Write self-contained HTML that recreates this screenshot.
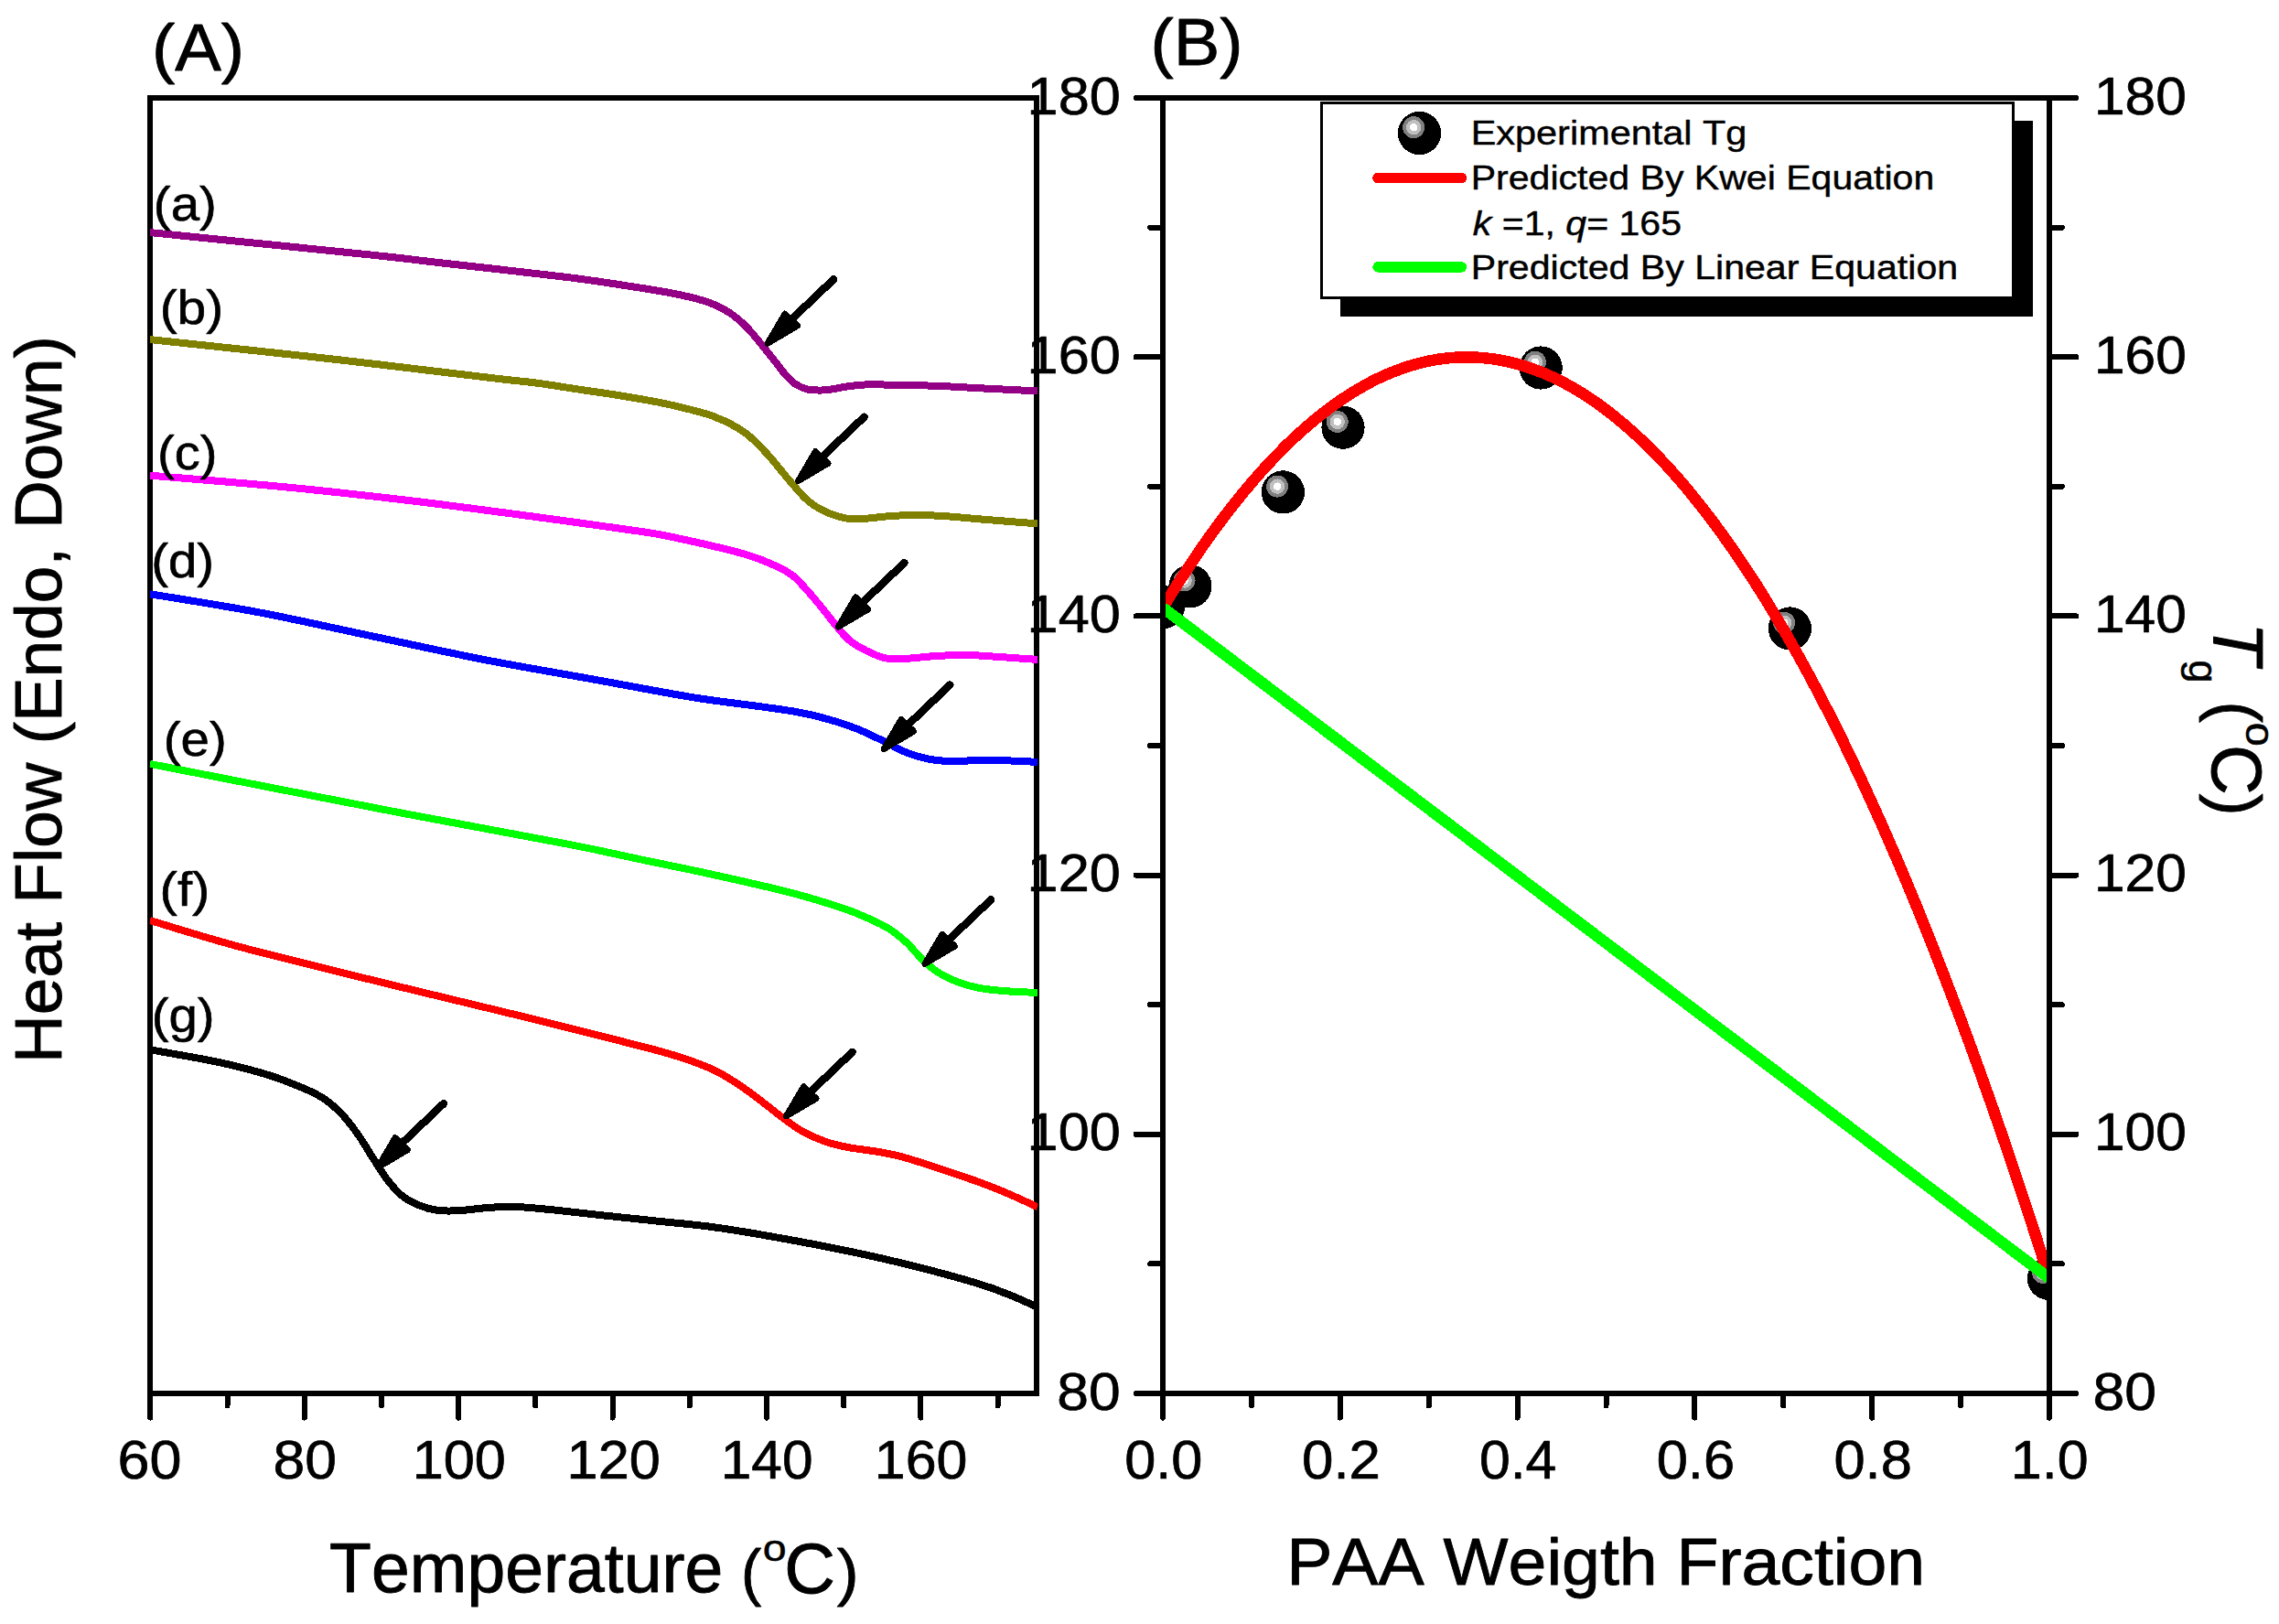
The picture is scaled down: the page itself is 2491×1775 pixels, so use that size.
<!DOCTYPE html>
<html><head><meta charset="utf-8"><title>DSC thermograms and Tg composition plot</title>
<style>html,body{margin:0;padding:0;background:#fff}svg{display:block}text{font-family:"Liberation Sans",sans-serif;fill:#000;stroke:#000;stroke-linejoin:round;font-kerning:none;font-variant-ligatures:none}</style>
</head><body>
<svg width="2491" height="1775" viewBox="0 0 2491 1775" shape-rendering="crispEdges">
<rect width="2491" height="1775" fill="#fff"/>
<defs>
<clipPath id="clipA"><rect x="163.8" y="107.0" width="970.4000000000001" height="1416.0"/></clipPath>
<clipPath id="clipB"><rect x="1271.0" y="107.0" width="968.9000000000001" height="1416.0"/></clipPath>
<g id="ball"><circle r="23.6" fill="#000"/><circle cx="-6.3" cy="-6.3" r="12" fill="#808080"/><circle cx="-6.3" cy="-6.3" r="8.2" fill="#c0c0c0"/><circle cx="-6.3" cy="-6.3" r="4.2" fill="#fff"/></g>
<g id="arrow"><line x1="74.6" y1="-72.3" x2="28" y2="-28" stroke="#000" stroke-width="8.5" stroke-linecap="round"/><polygon points="2.4,-2.3 21.4,-34.6 35,-21.5" fill="#000" stroke="#000" stroke-width="6.8" stroke-linejoin="round"/></g>
</defs>

<path d="M164.3,1543.0 V107.0 H1132.7 V1526.0 M1135.7,1523.0 H164.3" stroke="#000" stroke-width="6.0" fill="none"/>
<g clip-path="url(#clipA)" fill="none" stroke-width="8" stroke-linejoin="round">
<path d="M163.9,254.1 C203.2,258.1 347.3,272.5 400.0,278.0 C452.7,283.5 443.3,282.9 480.0,287.1 C516.7,291.3 583.3,298.4 620.0,303.0 C656.7,307.6 679.5,311.5 700.0,314.7 C720.5,317.9 730.5,319.5 743.1,322.2 C755.7,324.9 766.4,327.6 775.4,330.8 C784.4,334.0 790.5,337.5 797.0,341.6 C803.5,345.7 808.8,350.4 814.2,355.6 C819.6,360.8 823.9,366.3 829.3,372.8 C834.7,379.3 841.6,388.1 846.6,394.4 C851.6,400.7 855.5,406.3 859.5,410.6 C863.5,414.9 866.3,417.8 870.3,420.3 C874.2,422.8 877.8,424.6 883.2,425.6 C888.6,426.6 895.4,426.8 902.6,426.3 C909.8,425.8 918.8,423.4 926.3,422.4 C933.8,421.4 938.8,420.6 947.8,420.3 C956.8,420.1 967.6,420.6 980.2,420.9 C992.8,421.1 1007.1,421.2 1023.3,421.8 C1039.5,422.4 1058.8,423.7 1077.2,424.6 C1095.7,425.5 1124.5,426.9 1134.0,427.4" stroke="#940085"/>
<path d="M163.9,371.1 C196.6,374.6 297.4,385.1 360.1,392.1 C422.8,399.2 502.4,409.0 540.0,413.4 C577.6,417.8 570.4,416.5 585.6,418.5 C600.8,420.5 616.1,423.1 631.3,425.4 C646.5,427.7 661.7,429.7 676.9,432.2 C692.1,434.7 709.2,437.5 722.5,440.2 C735.8,442.9 747.3,445.7 756.8,448.2 C766.3,450.7 772.4,452.3 779.6,455.0 C786.8,457.7 793.5,460.6 800.0,464.2 C806.5,467.8 811.8,470.7 818.5,476.3 C825.2,481.9 832.9,489.9 840.1,497.8 C847.3,505.7 854.4,515.4 861.6,523.7 C868.8,532.0 876.0,541.3 883.2,547.4 C890.4,553.5 897.5,557.1 904.7,560.3 C911.9,563.5 920.2,565.6 926.3,566.8 C932.4,567.9 932.4,567.7 941.4,567.2 C950.4,566.7 966.6,564.2 980.2,563.6 C993.9,563.0 1007.1,562.9 1023.3,563.6 C1039.5,564.3 1058.8,566.4 1077.2,567.9 C1095.7,569.4 1124.5,571.6 1134.0,572.4" stroke="#808000"/>
<path d="M163.9,519.7 C187.8,521.7 261.4,527.5 307.4,531.9 C353.4,536.3 395.1,540.9 440.1,546.2 C485.2,551.5 534.4,558.1 577.7,563.9 C621.0,569.7 672.4,576.6 700.0,580.8 C727.6,584.9 728.7,585.8 743.1,588.8 C757.5,591.8 773.6,595.5 786.2,598.5 C798.8,601.5 808.4,603.9 818.5,607.1 C828.6,610.3 838.7,614.3 846.6,617.9 C854.5,621.5 860.2,624.4 865.9,628.7 C871.6,633.0 875.6,637.9 881.0,643.8 C886.4,649.7 892.5,657.2 898.3,664.2 C904.0,671.2 910.5,679.9 915.5,685.8 C920.5,691.7 923.4,695.7 928.4,699.8 C933.4,703.9 939.2,707.4 945.7,710.6 C952.2,713.8 959.7,717.7 967.2,719.2 C974.7,720.7 981.5,720.2 990.9,719.8 C1000.2,719.4 1012.5,717.6 1023.3,717.0 C1034.1,716.4 1044.8,715.8 1055.6,715.9 C1066.4,716.0 1074.8,716.9 1087.9,717.7 C1101.0,718.5 1126.3,720.4 1134.0,720.9" stroke="#FF00FF"/>
<path d="M163.9,649.2 C183.7,652.6 242.6,661.6 282.9,669.3 C323.2,676.9 364.8,686.5 405.7,695.1 C446.6,703.7 487.7,712.9 528.6,720.9 C569.6,728.9 622.8,737.8 651.4,743.0 C680.0,748.2 681.1,748.6 700.0,752.0 C718.9,755.4 743.2,760.1 764.7,763.4 C786.2,766.7 811.3,769.5 829.3,772.0 C847.2,774.5 859.8,776.1 872.4,778.4 C885.0,780.7 893.9,782.9 904.7,786.0 C915.5,789.1 927.0,792.8 937.1,796.8 C947.2,800.8 956.1,805.4 965.1,809.7 C974.1,814.0 983.0,819.4 990.9,822.6 C998.8,825.8 1005.3,827.6 1012.5,829.1 C1019.7,830.6 1025.1,831.5 1034.1,831.9 C1043.1,832.3 1055.6,831.4 1066.4,831.3 C1077.2,831.2 1087.4,831.0 1098.7,831.3 C1110.0,831.6 1128.1,832.6 1134.0,832.9" stroke="#0000FF"/>
<path d="M163.9,834.9 C209.8,843.9 363.4,874.1 439.4,888.7 C515.4,903.3 576.6,914.1 620.0,922.5 C663.4,930.9 672.8,933.6 700.0,939.3 C727.2,945.0 755.4,950.6 783.1,956.8 C810.8,962.9 843.2,970.2 866.3,976.2 C889.4,982.2 907.9,988.2 921.7,992.8 C935.6,997.4 941.1,1000.2 949.4,1003.9 C957.7,1007.6 964.6,1010.6 971.5,1015.0 C978.4,1019.4 984.9,1024.7 990.9,1030.2 C996.9,1035.7 1002.0,1042.9 1007.6,1048.2 C1013.2,1053.5 1017.7,1057.9 1024.2,1062.1 C1030.7,1066.3 1038.6,1070.2 1046.4,1073.2 C1054.2,1076.2 1062.1,1078.4 1071.3,1080.1 C1080.5,1081.8 1091.3,1082.6 1101.8,1083.4 C1112.2,1084.2 1128.6,1084.7 1134.0,1084.9" stroke="#00FF00"/>
<path d="M163.9,1006.0 C180.5,1010.9 221.0,1023.9 263.5,1035.3 C306.0,1046.6 367.0,1061.4 418.7,1074.1 C470.4,1086.8 527.0,1100.1 573.9,1111.6 C620.8,1123.1 672.0,1136.1 700.0,1143.3 C728.0,1150.5 728.7,1150.8 741.6,1154.9 C754.5,1159.1 767.0,1163.4 777.6,1168.2 C788.2,1173.0 796.5,1178.4 805.3,1184.0 C814.1,1189.6 821.9,1195.8 830.2,1202.0 C838.5,1208.2 847.4,1215.6 855.2,1221.4 C863.1,1227.2 869.4,1232.3 877.3,1236.7 C885.1,1241.1 894.0,1244.8 902.3,1247.7 C910.6,1250.6 917.1,1252.1 927.2,1254.1 C937.4,1256.0 952.6,1257.5 963.2,1259.4 C973.8,1261.4 979.4,1262.5 990.9,1265.8 C1002.4,1269.1 1018.6,1274.5 1032.5,1279.1 C1046.4,1283.7 1062.5,1289.2 1074.1,1293.5 C1085.6,1297.8 1091.8,1300.3 1101.8,1304.6 C1111.8,1308.9 1128.6,1316.8 1134.0,1319.2" stroke="#FF0000"/>
<path d="M163.9,1147.3 C176.2,1149.5 216.7,1156.3 237.6,1160.7 C258.5,1165.1 274.2,1169.2 289.3,1173.7 C304.4,1178.2 317.3,1183.4 328.1,1187.9 C338.9,1192.4 346.2,1195.6 354.0,1200.8 C361.8,1206.0 368.2,1212.0 374.7,1218.9 C381.2,1225.8 387.2,1234.2 392.8,1242.2 C398.4,1250.2 403.1,1258.8 408.3,1266.8 C413.5,1274.8 418.6,1283.3 423.8,1290.0 C429.0,1296.7 433.8,1302.4 439.4,1306.9 C445.0,1311.4 451.0,1314.5 457.5,1317.2 C464.0,1319.9 470.9,1321.9 478.2,1322.9 C485.5,1323.9 491.9,1323.7 501.4,1323.2 C510.9,1322.7 524.8,1320.5 535.1,1319.8 C545.5,1319.1 552.7,1318.7 563.5,1319.0 C574.3,1319.3 585.0,1320.5 599.7,1321.9 C614.4,1323.3 631.5,1325.4 651.5,1327.6 C671.5,1329.8 697.2,1332.3 720.0,1334.8 C742.8,1337.3 758.1,1337.9 788.1,1342.4 C818.1,1346.9 867.5,1355.7 900.2,1362.0 C932.9,1368.3 956.2,1373.4 984.2,1380.2 C1012.2,1387.0 1047.3,1396.4 1068.3,1402.7 C1089.3,1409.0 1099.3,1413.7 1110.3,1418.1 C1121.2,1422.5 1130.0,1427.2 1134.0,1429.0" stroke="#000000"/>
</g>
<use href="#arrow" x="836.6" y="377.6"/>
<use href="#arrow" x="870" y="528"/>
<use href="#arrow" x="913.8" y="687.5"/>
<use href="#arrow" x="963.7" y="820.9"/>
<use href="#arrow" x="1008.5" y="1055.7"/>
<use href="#arrow" x="857" y="1222.2"/>
<use href="#arrow" x="410.5" y="1278.3"/>
<g clip-path="url(#clipB)">
<use href="#ball" x="1271.3" y="663.6"/>
<use href="#ball" x="1300.9" y="640.8"/>
<use href="#ball" x="1402.4" y="537.9"/>
<use href="#ball" x="1468" y="467.2"/>
<use href="#ball" x="1684.2" y="402"/>
<use href="#ball" x="1956.4" y="687"/>
<use href="#ball" x="2239.4" y="1397.3"/>
<path d="M1271.0,664.2 L1280.7,648.4 L1290.4,633.2 L1300.1,618.4 L1309.8,604.0 L1319.4,590.1 L1329.1,576.7 L1338.8,563.8 L1348.5,551.3 L1358.2,539.3 L1367.9,527.7 L1377.6,516.6 L1387.3,506.0 L1397.0,495.9 L1406.6,486.2 L1416.3,476.9 L1426.0,468.2 L1435.7,459.9 L1445.4,452.1 L1455.1,444.7 L1464.8,437.8 L1474.5,431.4 L1484.2,425.5 L1493.8,420.0 L1503.5,414.9 L1513.2,410.4 L1522.9,406.3 L1532.6,402.7 L1542.3,399.5 L1552.0,396.8 L1561.7,394.6 L1571.4,392.8 L1581.0,391.5 L1590.7,390.7 L1600.4,390.3 L1610.1,390.4 L1619.8,391.0 L1629.5,392.0 L1639.2,393.5 L1648.9,395.5 L1658.6,397.9 L1668.2,400.8 L1677.9,404.2 L1687.6,408.0 L1697.3,412.3 L1707.0,417.1 L1716.7,422.3 L1726.4,428.0 L1736.1,434.2 L1745.8,440.8 L1755.5,447.9 L1765.1,455.5 L1774.8,463.5 L1784.5,472.0 L1794.2,480.9 L1803.9,490.4 L1813.6,500.3 L1823.3,510.6 L1833.0,521.4 L1842.7,532.7 L1852.3,544.5 L1862.0,556.7 L1871.7,569.4 L1881.4,582.6 L1891.1,596.2 L1900.8,610.3 L1910.5,624.8 L1920.2,639.8 L1929.9,655.3 L1939.5,671.3 L1949.2,687.7 L1958.9,704.6 L1968.6,721.9 L1978.3,739.7 L1988.0,758.0 L1997.7,776.8 L2007.4,796.0 L2017.1,815.7 L2026.7,835.8 L2036.4,856.4 L2046.1,877.5 L2055.8,899.0 L2065.5,921.1 L2075.2,943.5 L2084.9,966.5 L2094.6,989.9 L2104.3,1013.8 L2113.9,1038.1 L2123.6,1062.9 L2133.3,1088.2 L2143.0,1113.9 L2152.7,1140.1 L2162.4,1166.8 L2172.1,1194.0 L2181.8,1221.6 L2191.5,1249.6 L2201.1,1278.2 L2210.8,1307.2 L2220.5,1336.6 L2230.2,1366.6 L2239.9,1397.0" fill="none" stroke="#FF0000" stroke-width="12.5" stroke-linejoin="round"/>
<line x1="1271.0" y1="664.2" x2="2239.9" y2="1397.0" stroke="#00FF00" stroke-width="12.5"/>
</g>
<g stroke="#000" stroke-width="6.0" fill="none" stroke-linecap="round">
<line x1="164.3" y1="1523.0" x2="164.3" y2="1549.6"/>
<line x1="164.3" y1="1523.0" x2="164.3" y2="1549.6"/>
<line x1="248.5" y1="1523.0" x2="248.5" y2="1536.4"/>
<line x1="332.7" y1="1523.0" x2="332.7" y2="1549.6"/>
<line x1="416.9" y1="1523.0" x2="416.9" y2="1536.4"/>
<line x1="501.1" y1="1523.0" x2="501.1" y2="1549.6"/>
<line x1="585.3" y1="1523.0" x2="585.3" y2="1536.4"/>
<line x1="669.6" y1="1523.0" x2="669.6" y2="1549.6"/>
<line x1="753.8" y1="1523.0" x2="753.8" y2="1536.4"/>
<line x1="838.0" y1="1523.0" x2="838.0" y2="1549.6"/>
<line x1="922.2" y1="1523.0" x2="922.2" y2="1536.4"/>
<line x1="1006.4" y1="1523.0" x2="1006.4" y2="1549.6"/>
<line x1="1090.6" y1="1523.0" x2="1090.6" y2="1536.4"/>
<rect x="1271.0" y="107.0" width="968.9000000000001" height="1416.0" stroke-linecap="butt"/>
<line x1="1271.0" y1="1523.0" x2="1271.0" y2="1549.6"/>
<line x1="1367.9" y1="1523.0" x2="1367.9" y2="1536.4"/>
<line x1="1464.8" y1="1523.0" x2="1464.8" y2="1549.6"/>
<line x1="1561.7" y1="1523.0" x2="1561.7" y2="1536.4"/>
<line x1="1658.6" y1="1523.0" x2="1658.6" y2="1549.6"/>
<line x1="1755.5" y1="1523.0" x2="1755.5" y2="1536.4"/>
<line x1="1852.3" y1="1523.0" x2="1852.3" y2="1549.6"/>
<line x1="1949.2" y1="1523.0" x2="1949.2" y2="1536.4"/>
<line x1="2046.1" y1="1523.0" x2="2046.1" y2="1549.6"/>
<line x1="2143.0" y1="1523.0" x2="2143.0" y2="1536.4"/>
<line x1="2239.9" y1="1523.0" x2="2239.9" y2="1549.6"/>
<line x1="1271.0" y1="1523.0" x2="1241.5" y2="1523.0"/>
<line x1="2239.9" y1="1523.0" x2="2269.4" y2="1523.0"/>
<line x1="1271.0" y1="1381.4" x2="1257.0" y2="1381.4"/>
<line x1="2239.9" y1="1381.4" x2="2253.9" y2="1381.4"/>
<line x1="1271.0" y1="1239.8" x2="1241.5" y2="1239.8"/>
<line x1="2239.9" y1="1239.8" x2="2269.4" y2="1239.8"/>
<line x1="1271.0" y1="1098.2" x2="1257.0" y2="1098.2"/>
<line x1="2239.9" y1="1098.2" x2="2253.9" y2="1098.2"/>
<line x1="1271.0" y1="956.6" x2="1241.5" y2="956.6"/>
<line x1="2239.9" y1="956.6" x2="2269.4" y2="956.6"/>
<line x1="1271.0" y1="815.0" x2="1257.0" y2="815.0"/>
<line x1="2239.9" y1="815.0" x2="2253.9" y2="815.0"/>
<line x1="1271.0" y1="673.4" x2="1241.5" y2="673.4"/>
<line x1="2239.9" y1="673.4" x2="2269.4" y2="673.4"/>
<line x1="1271.0" y1="531.8" x2="1257.0" y2="531.8"/>
<line x1="2239.9" y1="531.8" x2="2253.9" y2="531.8"/>
<line x1="1271.0" y1="390.2" x2="1241.5" y2="390.2"/>
<line x1="2239.9" y1="390.2" x2="2269.4" y2="390.2"/>
<line x1="1271.0" y1="248.6" x2="1257.0" y2="248.6"/>
<line x1="2239.9" y1="248.6" x2="2253.9" y2="248.6"/>
<line x1="1271.0" y1="107.0" x2="1241.5" y2="107.0"/>
<line x1="2239.9" y1="107.0" x2="2269.4" y2="107.0"/>
</g>
<g>
<text transform="translate(128.55,1615.81) scale(1.0751,1)" font-size="58.52" stroke-width="0.70">60</text>
<text transform="translate(298.55,1615.81) scale(1.0673,1)" font-size="58.52" stroke-width="0.70">80</text>
<text transform="translate(450.70,1615.81) scale(1.0474,1)" font-size="58.52" stroke-width="0.70">100</text>
<text transform="translate(619.60,1615.81) scale(1.0474,1)" font-size="58.52" stroke-width="0.70">120</text>
<text transform="translate(787.77,1615.81) scale(1.0321,1)" font-size="58.52" stroke-width="0.70">140</text>
<text transform="translate(955.83,1615.81) scale(1.0409,1)" font-size="58.52" stroke-width="0.70">160</text>
<text transform="translate(1229.30,1615.81) scale(1.0463,1)" font-size="58.52" stroke-width="0.70">0.0</text>
<text transform="translate(1423.06,1615.81) scale(1.0564,1)" font-size="58.52" stroke-width="0.70">0.2</text>
<text transform="translate(1616.88,1615.81) scale(1.0384,1)" font-size="58.52" stroke-width="0.70">0.4</text>
<text transform="translate(1810.63,1615.81) scale(1.0503,1)" font-size="58.52" stroke-width="0.70">0.6</text>
<text transform="translate(2004.41,1615.81) scale(1.0503,1)" font-size="58.52" stroke-width="0.70">0.8</text>
<text transform="translate(2197.82,1615.81) scale(1.0429,1)" font-size="58.52" stroke-width="0.70">1.0</text>
<text transform="translate(1155.35,1540.53) scale(1.0883,1)" font-size="57.39" stroke-width="0.69">80</text>
<text transform="translate(2287.45,1540.53) scale(1.0883,1)" font-size="57.39" stroke-width="0.69">80</text>
<text transform="translate(1122.60,1257.33) scale(1.0681,1)" font-size="57.39" stroke-width="0.69">100</text>
<text transform="translate(2288.97,1257.33) scale(1.0535,1)" font-size="57.39" stroke-width="0.69">100</text>
<text transform="translate(1122.60,974.13) scale(1.0681,1)" font-size="57.39" stroke-width="0.69">120</text>
<text transform="translate(2288.97,974.13) scale(1.0535,1)" font-size="57.39" stroke-width="0.69">120</text>
<text transform="translate(1122.60,690.93) scale(1.0681,1)" font-size="57.39" stroke-width="0.69">140</text>
<text transform="translate(2288.97,690.93) scale(1.0535,1)" font-size="57.39" stroke-width="0.69">140</text>
<text transform="translate(1122.60,407.73) scale(1.0681,1)" font-size="57.39" stroke-width="0.69">160</text>
<text transform="translate(2288.97,407.73) scale(1.0535,1)" font-size="57.39" stroke-width="0.69">160</text>
<text transform="translate(1122.60,124.53) scale(1.0681,1)" font-size="57.39" stroke-width="0.69">180</text>
<text transform="translate(2288.97,124.53) scale(1.0535,1)" font-size="57.39" stroke-width="0.69">180</text>
</g>
<text transform="translate(166.06,76.87) scale(1.0393,1)" font-size="72.92" stroke-width="0.88">(A)</text>
<text transform="translate(1257.56,71.48) scale(1.0470,1)" font-size="72.39" stroke-width="0.87">(B)</text>
<text transform="translate(167.87,240.72) scale(1.0756,1)" font-size="52.44" stroke-width="0.63">(a)</text>
<text transform="translate(174.65,353.60) scale(1.0821,1)" font-size="52.55" stroke-width="0.63">(b)</text>
<text transform="translate(171.99,513.42) scale(1.0696,1)" font-size="52.44" stroke-width="0.63">(c)</text>
<text transform="translate(165.17,631.00) scale(1.0734,1)" font-size="52.55" stroke-width="0.63">(d)</text>
<text transform="translate(178.77,826.30) scale(1.0734,1)" font-size="52.55" stroke-width="0.63">(e)</text>
<text transform="translate(174.58,990.10) scale(1.1035,1)" font-size="52.55" stroke-width="0.63">(f)</text>
<text transform="translate(165.67,1127.60) scale(1.0734,1)" font-size="52.55" stroke-width="0.63">(g)</text>
<text transform="translate(360.11,1740.22) scale(1.0008,1)" font-size="75.08" stroke-width="0.90">Temperature</text>
<text transform="translate(810.03,1741.60) scale(0.9762,1)" font-size="68.42" stroke-width="0.82">(</text>
<text transform="translate(833.72,1705.79) scale(1.1483,1)" font-size="40.55" stroke-width="0.49">o</text>
<text transform="translate(857.14,1741.42) scale(0.9926,1)" font-size="77.74" stroke-width="0.93">C</text>
<text transform="translate(914.86,1741.60) scale(1.0479,1)" font-size="68.42" stroke-width="0.82">)</text>
<text transform="translate(1406.19,1732.06) scale(1.0375,1)" font-size="72.49" stroke-width="0.87">PAA Weigth Fraction</text>
<text transform="translate(66.67,1162.02) rotate(-90) scale(1.0007,1)" font-size="72.92" stroke-width="0.88">Heat Flow (Endo, Down)</text>
<text transform="translate(2418.80,680.37) rotate(90) scale(0.9804,1)" font-size="77.38" stroke-width="0.93" font-style="italic">T</text>
<text transform="translate(2393.24,721.27) rotate(90) scale(1.0297,1)" font-size="44.03" stroke-width="0.53">g</text>
<text transform="translate(2418.82,766.59) rotate(90) scale(0.9620,1)" font-size="73.35" stroke-width="0.88">(</text>
<text transform="translate(2455.35,789.59) rotate(90) scale(1.0594,1)" font-size="44.75" stroke-width="0.54">o</text>
<text transform="translate(2418.48,813.92) rotate(90) scale(0.9706,1)" font-size="77.88" stroke-width="0.93">C</text>
<text transform="translate(2418.82,867.56) rotate(90) scale(0.9878,1)" font-size="73.35" stroke-width="0.88">)</text>
<rect x="1465" y="132" width="756.8" height="213.9" fill="#000"/>
<rect x="1444.4" y="112.5" width="756.1" height="213.2" fill="#fff" stroke="#000" stroke-width="3.4"/>
<use href="#ball" x="1551.5" y="145.5"/>
<line x1="1506" y1="194.5" x2="1597.5" y2="194.5" stroke="#FF0000" stroke-width="11.4" stroke-linecap="round"/>
<line x1="1506" y1="291.9" x2="1597.5" y2="291.9" stroke="#00FF00" stroke-width="11.4" stroke-linecap="round"/>
<text transform="translate(1607.68,158.39) scale(1.1011,1)" font-size="37.64" stroke-width="0.45">Experimental Tg</text>
<text transform="translate(1607.71,207.49) scale(1.0908,1)" font-size="37.64" stroke-width="0.45">Predicted By Kwei Equation</text>
<text transform="translate(1607.71,305.19) scale(1.0922,1)" font-size="37.64" stroke-width="0.45">Predicted By Linear Equation</text>
<text transform="translate(1609.78,256.6) scale(1.0908,1)" font-size="37.64" stroke-width="0.45"><tspan font-style="italic">k</tspan> =1, <tspan font-style="italic">q</tspan>= 165</text>
</svg>
</body></html>
